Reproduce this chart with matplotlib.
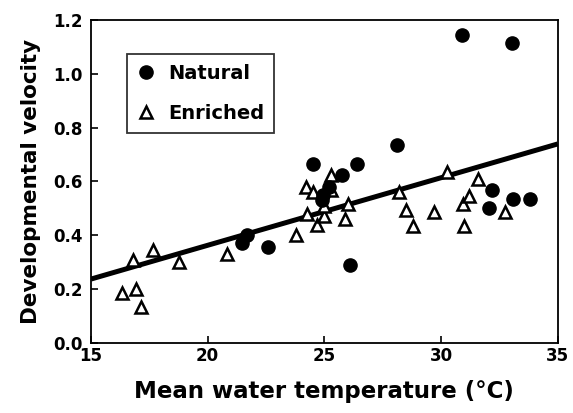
import matplotlib
matplotlib.use("Agg")
import matplotlib.pyplot as plt
import numpy as np

# Data
natural_x = [21.45, 21.67, 22.6, 24.5, 24.95, 25.2, 24.9, 25.75, 26.4, 28.1, 26.1,
             30.9, 33.05, 32.2, 32.05, 33.1, 33.8]
natural_y = [0.37, 0.40, 0.355, 0.665, 0.55, 0.58, 0.53, 0.625, 0.665, 0.735, 0.29,
             1.145, 1.115, 0.57, 0.50, 0.535, 0.535]

enriched_x = [16.35, 16.93, 17.14, 16.81, 17.64, 18.79, 20.81, 23.8, 24.2, 24.5,
              25.3, 25.3, 24.25, 24.7, 25.0, 25.0, 26.0, 25.9, 28.2, 28.5, 28.8,
              29.7, 30.25, 30.95, 31.2, 31.0, 31.6, 32.75]
enriched_y = [0.185, 0.20, 0.135, 0.31, 0.345, 0.30, 0.33, 0.40, 0.58, 0.56,
              0.625, 0.57, 0.48, 0.44, 0.47, 0.51, 0.515, 0.46, 0.56, 0.495, 0.435,
              0.485, 0.635, 0.515, 0.545, 0.435, 0.61, 0.485]

fit_intercept_at_15 = 0.2375
fit_slope = 0.0251
fit_x_range = [15, 35]

x_ticks = [15, 20, 25, 30, 35]
y_ticks = [0.0, 0.2, 0.4, 0.6, 0.8, 1.0, 1.2]

FONT = "DejaVu Sans"
W = "bold"

fig = plt.figure(figsize=(5.73, 4.13), dpi=100)
ax = fig.add_axes([0.1588, 0.1695, 0.8145, 0.7821])

fx = np.array(fit_x_range, dtype=float)
ax.plot(fx, fit_intercept_at_15 + fit_slope * (fx - 15), color="black", lw=3.6,
        solid_capstyle="butt", zorder=2)

ax.plot(enriched_x, enriched_y, linestyle="none", marker="^", ms=9,
        mfc="white", mec="black", mew=1.8, zorder=3, label="Enriched")
ax.plot(natural_x, natural_y, linestyle="none", marker="o", ms=9.5,
        mfc="black", mec="black", zorder=4, label="Natural")

ax.set_xlim(15, 35)
ax.set_ylim(0, 1.2)
ax.set_xticks(x_ticks)
ax.set_yticks(y_ticks)
ax.set_xticklabels([str(t) for t in x_ticks], fontfamily=FONT, fontweight=W, fontsize=12)
ax.set_yticklabels([f"{t:.1f}" for t in y_ticks], fontfamily=FONT, fontweight=W, fontsize=12)
ax.tick_params(axis="both", direction="in", length=5, width=1.2)
ax.tick_params(axis="x", pad=3)
ax.tick_params(axis="y", pad=6)
for s in ax.spines.values():
    s.set_linewidth(1.3)

ax.set_xlabel("Mean water temperature (°C)", fontfamily=FONT, fontweight=W,
              fontsize=16.5, labelpad=11)
ax.set_ylabel("Developmental velocity", fontfamily=FONT, fontweight=W,
              fontsize=15.5, labelpad=9)

handles, labels = ax.get_legend_handles_labels()
leg = ax.legend(handles[::-1], labels[::-1], loc="upper left",
                bbox_to_anchor=(0.077, 0.895), borderaxespad=0, frameon=True,
                fancybox=False, edgecolor="black", handletextpad=0.6,
                borderpad=0.5, labelspacing=1.1, handlelength=1.0,
                prop={"family": FONT, "weight": W, "size": 14})
leg.get_frame().set_linewidth(1.3)

fig.savefig("out.png", dpi=100)
